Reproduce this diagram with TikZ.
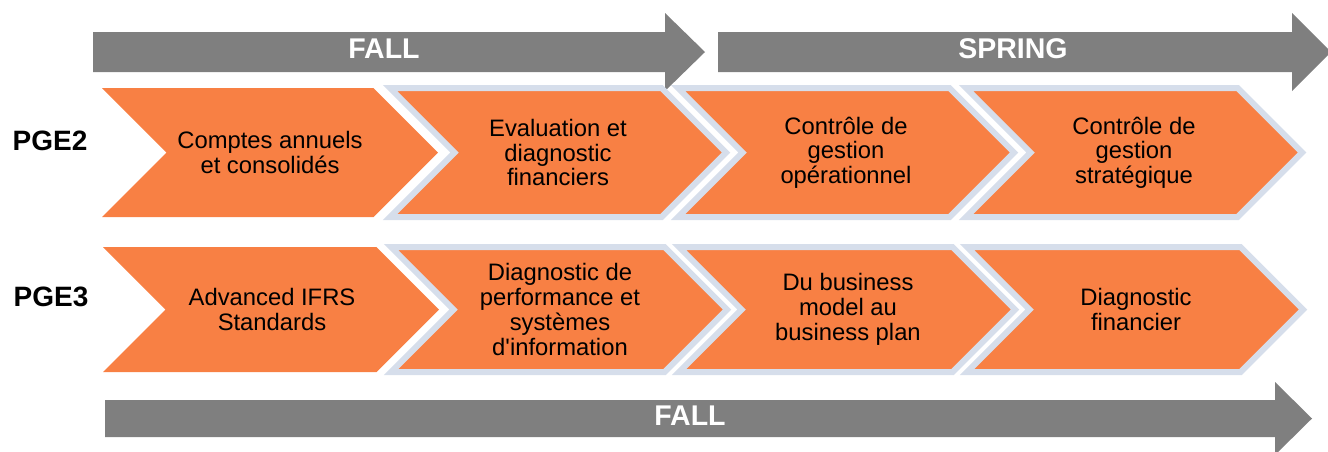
\documentclass[tikz,border=0pt]{standalone}
\usepackage{fontspec}
\setmainfont{Liberation Sans}
\usepackage{tikz}
\usetikzlibrary{positioning}

\definecolor{chevorange}{RGB}{248,128,68}
\definecolor{bargray}{RGB}{127,127,127}
\definecolor{rimblue}{RGB}{214,222,235}

% chevron: style, left x, top y, bottom y
\newcommand{\chevron}[4]{%
  \pgfmathsetmacro{\dd}{(#4-#3)/2}
  \path[#1] (#2,#3) -- ({#2+336-\dd},#3) -- ({#2+336},{#3+\dd})
    -- ({#2+336-\dd},#4) -- (#2,#4) -- ({#2+\dd},{#3+\dd}) -- cycle;}

\begin{document}
\begin{tikzpicture}[x=1pt,y=-1pt,node distance=288pt,
    bar/.style={fill=bargray},
    plain/.style={fill=chevorange},
    rimmed/.style={fill=chevorange,draw=rimblue,line width=6pt,line join=miter},
    steptext/.style={align=center,text=black,font=\fontsize{23.8}{24.7}\selectfont},
    season/.style={text=white,font=\bfseries\fontsize{28.5}{30}\selectfont},
    level/.style={text=black,font=\bfseries\fontsize{28}{30}\selectfont}]
  \clip (0,0) rectangle (1328,451);

  % semester bars
  \path[bar] (93,32) -- (665,32) -- (665,13) -- (705,52) -- (665,91) -- (665,72) -- (93,72) -- cycle;
  \path[bar] (718,32) -- (1292,32) -- (1292,13) -- (1331,52) -- (1292,91) -- (1292,72) -- (718,72) -- cycle;
  \path[bar] (105,400) -- (1275,400) -- (1275,382) -- (1312,418.5) -- (1275,455) -- (1275,437) -- (105,437) -- cycle;
  \node[season] (fallA) at (384,48.5) {FALL};
  \node[season] (spring) at (1013,48.5) {SPRING};
  \node[season] (fallB) at (690,416) {FALL};

  % chevrons
  \chevron{plain}{102}{88}{217}
  \chevron{rimmed}{390}{88}{217}
  \chevron{rimmed}{678}{88}{217}
  \chevron{rimmed}{966}{88}{217}
  \chevron{plain}{103}{247}{372}
  \chevron{rimmed}{391}{247}{372}
  \chevron{rimmed}{679}{247}{372}
  \chevron{rimmed}{967}{247}{372}

  \node[level] (pge2) at (50,141) {PGE2};
  \node[level] (pge3) at (51,297) {PGE3};

  \node[steptext] (c21) at (270,152.5) {Comptes annuels\\et consolidés};
  \node[steptext] (c22) [right of=c21] {Evaluation et\\diagnostic\\financiers};
  \node[steptext] (c23) [right of=c22] {Contrôle de\\gestion\\opérationnel};
  \node[steptext] (c24) [right of=c23] {Contrôle de\\gestion\\stratégique};

  \node[steptext] (c31) at (272,309.5) {Advanced IFRS\\Standards};
  \node[steptext] (c32) [right of=c31] {Diagnostic de\\performance et\\systèmes\\d\textquotesingle information};
  \node[steptext] (c33) [right of=c32] {Du business\\model au\\business plan};
  \node[steptext] (c34) [right of=c33] {Diagnostic\\financier};
\end{tikzpicture}
\end{document}
